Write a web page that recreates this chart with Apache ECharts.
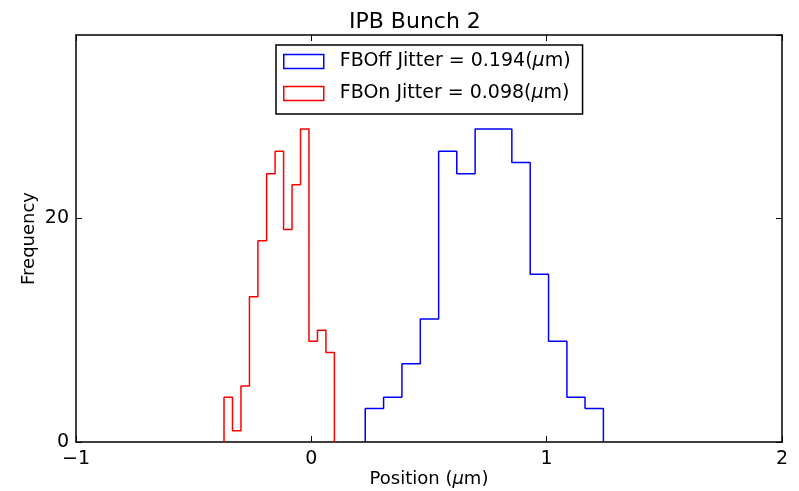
<!DOCTYPE html>
<html>
<head>
<meta charset="utf-8">
<script src="https://cdn.jsdelivr.net/npm/echarts@6/dist/echarts.min.js"></script>
<style>html,body{margin:0;padding:0;background:#fff}#c{width:799px;height:491px}</style>
</head>
<body>
<div id="c"></div>
<script>
const titleText = 'IPB Bunch 2';
const offName = 'FBOff Jitter = 0.194';
const onName = 'FBOn Jitter = 0.098';
const xTicks = [-1, 0, 1, 2];
const yTicks = [0, 20];
const yMax = 36.4;
const redEdges = [-0.371, -0.335, -0.299, -0.263, -0.227, -0.190, -0.154, -0.118, -0.082, -0.046, -0.010, 0.026, 0.062, 0.098];
const redCounts = [4, 1, 5, 13, 18, 24, 26, 19, 23, 28, 9, 10, 8];
const blueEdges = [0.229, 0.307, 0.385, 0.463, 0.541, 0.618, 0.696, 0.774, 0.852, 0.930, 1.008, 1.086, 1.163, 1.241];
const blueCounts = [3, 4, 7, 11, 26, 24, 28, 28, 25, 15, 9, 4, 3];

function steps(edges, counts) {
  const pts = [[edges[0], 0]];
  counts.forEach((c, i) => { pts.push([edges[i], c]); pts.push([edges[i + 1], c]); });
  pts.push([edges[edges.length - 1], 0]);
  return pts;
}

const FONT = 'DejaVu Sans';
const FS = 19;
const chart = echarts.init(document.getElementById('c'), null, {renderer: 'canvas'});
const axisLineStyle = {color: '#000', width: 1.5};
const tickStyle = {color: '#000', width: 1};
const fmtX = v => xTicks.indexOf(v) < 0 ? '' : (v < 0 ? '\u2212' + Math.abs(v) : String(v));
const fmtY = v => yTicks.indexOf(v) < 0 ? '' : String(v);

chart.setOption({
  animation: false,
  backgroundColor: '#fff',
  textStyle: {fontFamily: FONT},
  graphic: [{
    type: 'text', left: 429 - 80, top: 11,
    style: {text: titleText, font: '22px "DejaVu Sans"', fill: '#000', width: 160, align: 'center'}
  }],
  grid: {left: 76, right: 17, top: 35, bottom: 49, containLabel: false, outerBoundsMode: 'none'},
  legend: {
    orient: 'vertical', left: 276, top: 45,
    backgroundColor: '#fff', borderColor: '#000', borderWidth: 1.5, borderRadius: 0,
    padding: [7, 12, 11, 7], itemGap: 13, itemWidth: 40, itemHeight: 14,
    selectedMode: false,
    data: [
      {name: offName, icon: 'rect', itemStyle: {color: 'rgba(0,0,0,0)', borderColor: '#0000ff', borderWidth: 1.5}},
      {name: onName, icon: 'rect', itemStyle: {color: 'rgba(0,0,0,0)', borderColor: '#ff0000', borderWidth: 1.5}}
    ],
    formatter: n => '{a|' + n + '(}{i|\u03bc}{b|m)}',
    textStyle: {
      fontFamily: FONT, fontSize: FS, color: '#000',
      rich: {
        a: {fontFamily: FONT, fontSize: FS, color: '#000', padding: [0, 0, 0, 11], lineHeight: 21},
        i: {fontFamily: FONT, fontSize: FS, fontStyle: 'italic', color: '#000', lineHeight: 21},
        b: {fontFamily: FONT, fontSize: FS, color: '#000', lineHeight: 21}
      }
    }
  },
  xAxis: [{
    type: 'value', position: 'bottom', min: -1, max: 2, interval: 1,
    axisLine: {show: true, onZero: false, lineStyle: axisLineStyle},
    axisTick: {show: true, inside: true, length: 6, lineStyle: tickStyle},
    axisLabel: {show: true, margin: 8, fontFamily: FONT, fontSize: FS, color: '#000', formatter: fmtX},
    splitLine: {show: false},
    name: '{a|Position (}{i|\u03bc}{a|m)}', nameLocation: 'middle', nameGap: 28, nameMoveOverlap: false,
    nameTextStyle: {fontFamily: FONT, fontSize: 18, color: '#000',
      rich: {a: {fontFamily: FONT, fontSize: 18, color: '#000'}, i: {fontFamily: FONT, fontSize: 18, fontStyle: 'italic', color: '#000'}}}
  }, {
    type: 'value', position: 'top', min: -1, max: 2, interval: 1,
    axisLine: {show: true, onZero: false, lineStyle: axisLineStyle},
    axisTick: {show: true, inside: true, length: 6, lineStyle: tickStyle},
    axisLabel: {show: false}, splitLine: {show: false}
  }],
  yAxis: [{
    type: 'value', position: 'left', min: 0, max: yMax, interval: 20,
    axisLine: {show: true, onZero: false, lineStyle: axisLineStyle},
    axisTick: {show: true, inside: true, length: 6, lineStyle: tickStyle},
    axisLabel: {show: true, margin: 7, fontFamily: FONT, fontSize: FS, color: '#000', formatter: fmtY, showMaxLabel: false},
    splitLine: {show: false},
    name: 'Frequency', nameLocation: 'middle', nameGap: 38, nameMoveOverlap: false,
    nameTextStyle: {fontFamily: FONT, fontSize: 18, color: '#000'}
  }, {
    type: 'value', position: 'right', min: 0, max: yMax, interval: 20,
    axisLine: {show: true, onZero: false, lineStyle: axisLineStyle},
    axisTick: {show: true, inside: true, length: 6, lineStyle: tickStyle},
    axisLabel: {show: false}, splitLine: {show: false}
  }],
  series: [{
    name: offName, type: 'line', xAxisIndex: 0, yAxisIndex: 0,
    data: steps(blueEdges, blueCounts), showSymbol: false, symbol: 'none',
    lineStyle: {color: '#0000ff', width: 1.5}, itemStyle: {color: '#0000ff'}, z: 1
  }, {
    name: onName, type: 'line', xAxisIndex: 0, yAxisIndex: 0,
    data: steps(redEdges, redCounts), showSymbol: false, symbol: 'none',
    lineStyle: {color: '#ff0000', width: 1.5}, itemStyle: {color: '#ff0000'}, z: 1
  }]
});
</script>
</body>
</html>
